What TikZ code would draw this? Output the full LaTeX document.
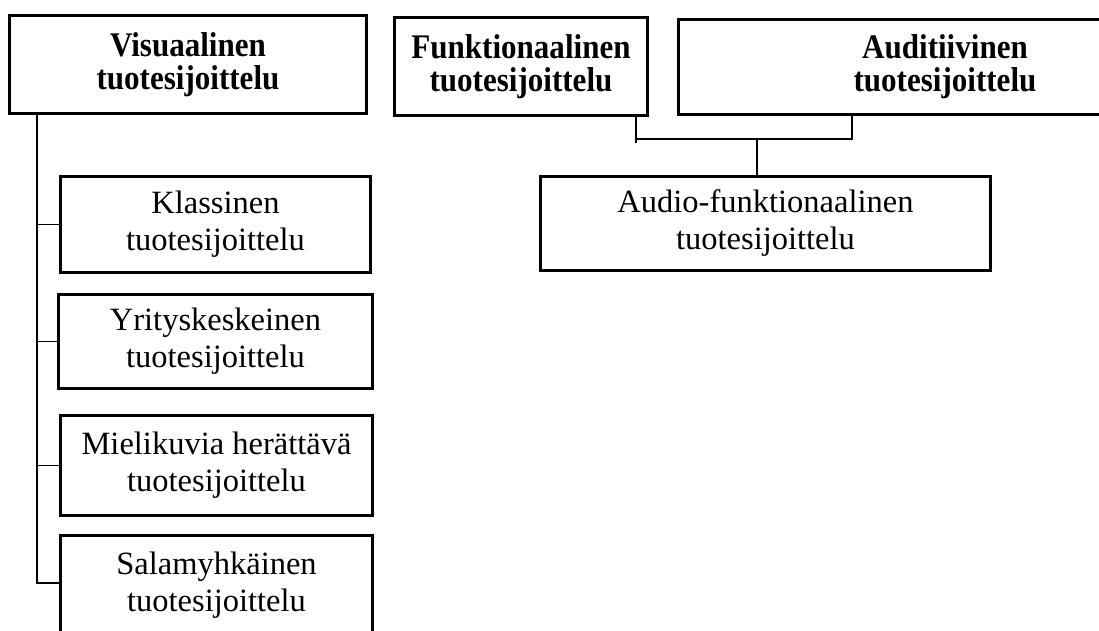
\documentclass[tikz,border=0pt]{standalone}
\usepackage{fontspec}
\setmainfont{Liberation Serif}
\newfontfamily\headfont[FakeStretch=0.9]{Liberation Serif}
\begin{document}
\begin{tikzpicture}[x=1pt,y=-1pt,
  box/.style={draw=black, line width=3.2pt, fill=white, inner sep=0pt, align=center,
    font=\fontsize{32.5}{37}\selectfont},
  headbox/.style={box, font=\headfont\fontsize{34.5}{33}\selectfont\bfseries},
  link/.style={draw=black, line width=1.3pt}]
\useasboundingbox (0,0) rectangle (1099,630);
\clip (0,0) rectangle (1099,630);

% left column: visual positioning and its four kinds
\node[headbox, minimum width=357pt, minimum height=98pt] (vis) at (188,64.5)
  {Visuaalinen\\tuotesijoittelu};
\node[box, minimum width=310pt, minimum height=96pt] (klas) at (215.5,224.5)
  {Klassinen\\tuotesijoittelu};
\node[box, minimum width=314pt, minimum height=94pt] (yrit) at (215.5,341.5)
  {Yrityskeskeinen\\tuotesijoittelu};
\node[box, minimum width=312pt, minimum height=100pt] (miel) at (216.5,465.5)
  {Mielikuvia herättävä\\tuotesijoittelu};
\node[box, minimum width=312pt, minimum height=99pt] (sala) at (216.5,585)
  {Salamyhkäinen\\tuotesijoittelu};

% right group: functional + auditive -> audio-functional
\node[headbox, minimum width=253pt, minimum height=98pt] (funk) at (521,66.5)
  {Funktionaalinen\\tuotesijoittelu};
\node[headbox, minimum width=533pt, minimum height=95pt] (audi) at (945,67)
  {Auditiivinen\\tuotesijoittelu};
\node[box, minimum width=450pt, minimum height=94pt] (audio) at (765.5,223.5)
  {Audio-funktionaalinen\\tuotesijoittelu};

% trunk with branches on the left
\coordinate (tr) at (37,583);
\draw[link] (vis.south -| tr) -- (tr) -- (tr -| sala.west);
\draw[link] (tr |- klas.west) -- (klas.west);
\draw[link] (tr |- yrit.west) -- (yrit.west);
\draw[link] (tr |- miel.west) -- (miel.west);

% joining bracket on the right
\coordinate (jl) at (636,139);
\coordinate (jr) at (852,139);
\coordinate (jm) at (757,139);
\draw[link] (funk.south -| jl) -- ++(0,25.5);
\draw[link] (audi.south -| jr) -- (jr) -- (jl);
\draw[link] (jm) -- (audio.north -| jm);
\end{tikzpicture}
\end{document}
